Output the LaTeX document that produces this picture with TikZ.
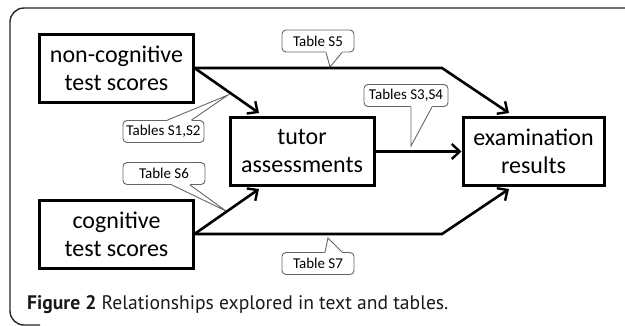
\documentclass[tikz,border=0pt]{standalone}
\usepackage{fontspec}
\setmainfont{Carlito}
\newfontfamily\capfont{PT Sans}
\usetikzlibrary{arrows.meta,calc}
\tikzset{
  mainbox/.style={draw=black, line width=3bp, minimum width=#1, minimum height=68bp, inner sep=0pt, align=center,
    font=\fontsize{24bp}{28bp}\selectfont},
  callbox/.style={draw=black!60, line width=0.9bp, rounded corners=4bp, fill=white, inner sep=0pt,
    minimum height=22bp, font=\fontsize{15bp}{17bp}\selectfont},
  arr/.style={line width=2.6bp, -{Straight Barb[length=8bp,width=15bp,line width=2.4bp]}},
  frame/.style={line width=1.4bp, draw=black!85, rounded corners=14bp},
}
\newcommand\callptr[5]{% node, anchor, dx1, dx2, tip ; inward shift \ptrd
  \fill[white] ($(#1.#2)+(#3,0)$) -- (#5) -- ($(#1.#2)+(#4,0)$) -- ($(#1.#2)+(#4,\ptrd)$) -- ($(#1.#2)+(#3,\ptrd)$) -- cycle;
  \draw[draw=black!60, line width=0.9bp, line join=miter] ($(#1.#2)+(#3,0)$) -- (#5) -- ($(#1.#2)+(#4,0)$);
}
\begin{document}
\begin{tikzpicture}[x=1bp,y=-1bp]
\useasboundingbox (0,0) rectangle (625,325);
% frame
\draw[frame] (626,8) -- (10,8) -- (10,325) -- (40,325);

% main boxes
\node[mainbox=153bp] (nc) at (116.5,68) {non-cognitive\\test scores};
\node[mainbox=153bp] (cg) at (116.5,234) {cognitive\\test scores};
\node[mainbox=144bp] (tu) at (302,151) {tutor\\assessments};
\node[mainbox=141bp] (ex) at (533.5,151) {examination\\results};

% callouts
\node[callbox, minimum width=72bp] (c5) at (318,41) {Table S5};
\node[callbox, minimum width=81bp] (c12) at (163.5,131.5) {Tables S1,S2};
\node[callbox, minimum width=82bp] (c6) at (164,173.5) {Table S6};
\node[callbox, minimum width=84bp] (c34) at (406,95.5) {Tables S3,S4};
\node[callbox, minimum width=72bp] (c7) at (318,263.5) {Table S7};

\coordinate (t5) at (330,67);
\coordinate (t12) at (228,95);
\coordinate (t6) at (226,211);
\coordinate (t34) at (411,146);
\coordinate (t7) at (328,238);

\def\ptrd{-1.5}
\callptr{c5}{south}{8}{24}{t5}
\callptr{c6}{south}{8}{26}{t6}
\callptr{c34}{south}{5}{26}{t34}
\def\ptrd{1.5}
\callptr{c12}{north}{4}{28}{t12}
\callptr{c7}{north}{7}{24}{t7}

% connectors
\coordinate (b1) at (442,68);
\coordinate (b2) at (442,234);
\coordinate (h1) at (259,113);
\coordinate (h2) at (509,113);
\coordinate (h3) at (259,189);
\coordinate (h4) at (509,189);
\draw[arr] (nc.east) -- (h1);
\draw[arr, line join=miter] (nc.east) -- (b1) -- (h2);
\draw[arr] ([yshift=-0.5bp]tu.east) -- ([yshift=-0.5bp]ex.west);
\draw[arr] (cg.east) -- (h3);
\draw[arr, line join=miter] (cg.east) -- (b2) -- (h4);

% caption
\node[anchor=base west, inner sep=0pt, font=\capfont\fontsize{19.6bp}{22bp}\selectfont, text=black!90] (cap) at (27,309)
  {\textbf{Figure 2} Relationships explored in text and tables.};
\end{tikzpicture}
\end{document}
